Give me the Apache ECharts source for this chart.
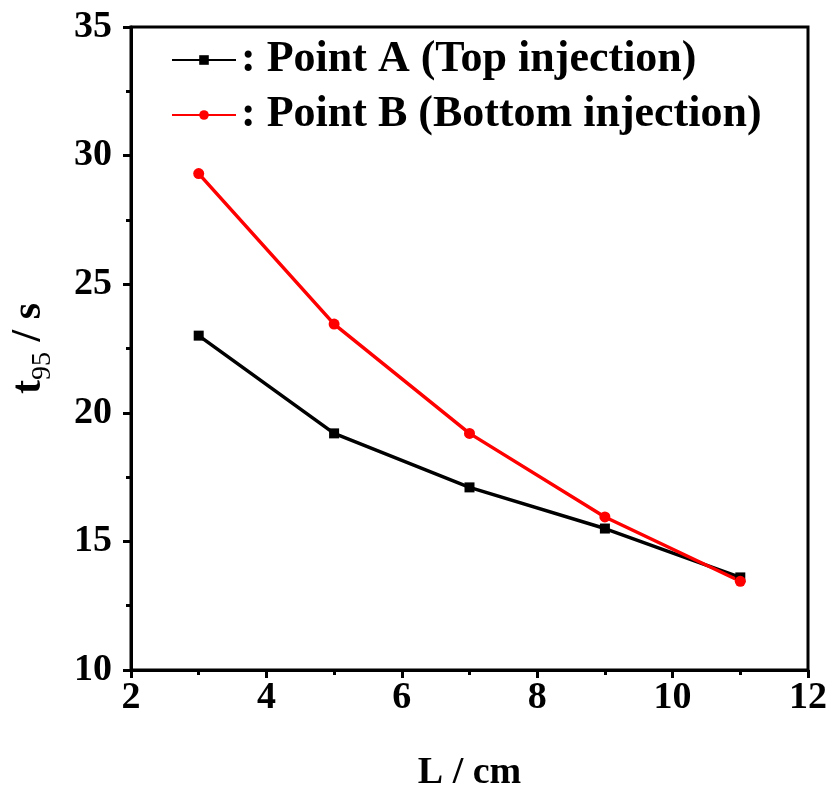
<!DOCTYPE html>
<html>
<head>
<meta charset="utf-8">
<script src="https://cdn.jsdelivr.net/npm/echarts@6/dist/echarts.min.js"></script>
<style>
  html, body { margin: 0; padding: 0; background: #fff; }
  #main { width: 830px; height: 797px; }
</style>
</head>
<body>
<div id="main"></div>
<script>
var lengths = [3, 5, 7, 9, 11]
var pointA = [23.0, 19.2, 17.1, 15.5, 13.6]
var pointB = [29.3, 23.45, 19.2, 15.95, 13.45]
var seriesNames = [': Point A (Top injection)', ': Point B (Bottom injection)']

var font = '"Liberation Serif", "Times New Roman", serif'

function pairs (xs, ys) {
  return xs.map(function (x, i) { return [x, ys[i]] })
}

var myChart = echarts.init(document.getElementById('main'))
myChart.setOption({
  animation: false,
  backgroundColor: '#fff',
  grid: {
    left: 131, right: 22, top: 27, bottom: 127,
    outerBoundsMode: 'none',
    show: true, borderColor: '#000', borderWidth: 3
  },
  legend: {
    orient: 'vertical',
    left: 166, top: 33,
    itemWidth: 64, itemHeight: 12,
    itemGap: 11,
    textStyle: { fontFamily: font, fontWeight: 'bold', fontSize: 44, color: '#000' },
    data: seriesNames
  },
  xAxis: {
    type: 'value',
    min: 2, max: 12, interval: 2,
    name: 'L / cm',
    nameLocation: 'middle',
    nameGap: 84,
    nameTextStyle: { fontFamily: font, fontWeight: 'bold', fontSize: 38, color: '#000' },
    axisLine: { lineStyle: { color: '#000', width: 3 } },
    axisTick: { inside: false, length: 8, lineStyle: { color: '#000', width: 3 } },
    minorTick: { show: true, splitNumber: 2, length: 5, lineStyle: { color: '#000', width: 3 } },
    axisLabel: { fontFamily: font, fontWeight: 'bold', fontSize: 38, color: '#000', margin: 9 },
    splitLine: { show: false }
  },
  yAxis: {
    type: 'value',
    min: 10, max: 35, interval: 5,
    name: '{b|t}{sub|95}{b| / s}',
    nameLocation: 'middle',
    nameGap: 74,
    nameRotate: 90,
    nameTextStyle: {
      rich: {
        b: { fontFamily: font, fontWeight: 'bold', fontSize: 42, color: '#000' },
        sub: { fontFamily: font, fontSize: 28, color: '#000', padding: [28, 0, 0, 0] }
      }
    },
    axisLine: { lineStyle: { color: '#000', width: 3 } },
    axisTick: { inside: false, length: 8, lineStyle: { color: '#000', width: 3 } },
    minorTick: { show: true, splitNumber: 2, length: 5, lineStyle: { color: '#000', width: 3 } },
    axisLabel: { fontFamily: font, fontWeight: 'bold', fontSize: 38, color: '#000', margin: 19 },
    splitLine: { show: false }
  },
  series: [{
    name: seriesNames[0],
    type: 'line',
    data: pairs(lengths, pointA),
    symbol: 'rect',
    symbolSize: 10,
    color: '#000',
    lineStyle: { color: '#000', width: 3.5 },
    itemStyle: { color: '#000' }
  }, {
    name: seriesNames[1],
    type: 'line',
    data: pairs(lengths, pointB),
    symbol: 'circle',
    symbolSize: 11,
    color: '#ff0000',
    lineStyle: { color: '#ff0000', width: 3.5 },
    itemStyle: { color: '#ff0000' }
  }]
})
</script>
</body>
</html>
